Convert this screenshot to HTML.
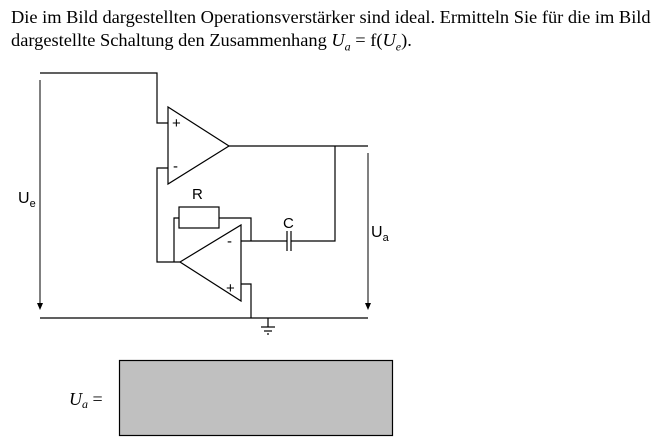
<!DOCTYPE html>
<html><head><meta charset="utf-8"><style>
body{margin:0;width:664px;height:448px;background:#fff;overflow:hidden;position:relative;font-family:"Liberation Serif",serif;}
.t{position:absolute;left:11px;top:6px;font-size:18.4px;line-height:23px;color:#000;white-space:nowrap;}
svg{position:absolute;left:0;top:0;}
</style></head><body>
<div class="t">Die im Bild dargestellten Operationsverstärker sind ideal. Ermitteln Sie für die im Bild<br>dargestellte Schaltung den Zusammenhang <i>U<sub style="font-size:12px">a</sub></i> = f(<i>U<sub style="font-size:12px">e</sub></i>).</div>
<svg width="664" height="448" viewBox="0 0 664 448">
<g stroke="#000" stroke-width="1.2" fill="none">
<polyline points="40,73 157,73 157,123 168,123"/>
<polygon points="168,107 168,184 229,146"/>
<polyline points="168,168 157,168 157,262 180,262"/>
<polygon points="180,262 241,225 241,301"/>
<rect x="179" y="207" width="40" height="21"/>
<polyline points="179,218 174,218 174,262"/>
<polyline points="219,218 251,218 251,241"/>
<line x1="241" y1="241" x2="287" y2="241"/>
<line x1="287" y1="231" x2="287" y2="251"/>
<line x1="291" y1="231" x2="291" y2="251"/>
<polyline points="291,241 335,241 335,146"/>
<line x1="229" y1="146" x2="368" y2="146"/>
<polyline points="241,284 251,284 251,318"/>
<line x1="40" y1="318" x2="368" y2="318"/>
<line x1="268" y1="318" x2="268" y2="327"/>
<line x1="261" y1="327" x2="275" y2="327"/>
<line x1="264" y1="331" x2="272" y2="331"/>
<line x1="267" y1="334" x2="269" y2="334"/>
<line x1="40" y1="80" x2="40" y2="304" stroke-width="1"/>
<line x1="368" y1="153" x2="368" y2="304" stroke-width="1"/>
</g>
<polygon points="37,303 43,303 40,310" fill="#000"/>
<polygon points="365,303 371,303 368,310" fill="#000"/>
<g font-family="Liberation Sans, sans-serif" fill="#000">
<text x="172" y="128" font-size="15">+</text>
<text x="173" y="171" font-size="15">-</text>
<text x="227" y="246" font-size="15">-</text>
<text x="226" y="293" font-size="15">+</text>
<text x="192" y="199" font-size="15">R</text>
<text x="283" y="228" font-size="15">C</text>
<text x="18" y="203" font-size="16">U<tspan font-size="11" dy="4">e</tspan></text>
<text x="371" y="237" font-size="16">U<tspan font-size="11" dy="4">a</tspan></text>
</g>
<rect x="119.5" y="360.5" width="273" height="75" fill="#c0c0c0" stroke="#000" stroke-width="1.2"/>
<text x="69" y="405" font-family="Liberation Serif, serif" font-size="18" font-style="italic">U<tspan font-size="12" dy="3">a</tspan><tspan font-style="normal" dy="-3"> =</tspan></text>
</svg>
</body></html>
